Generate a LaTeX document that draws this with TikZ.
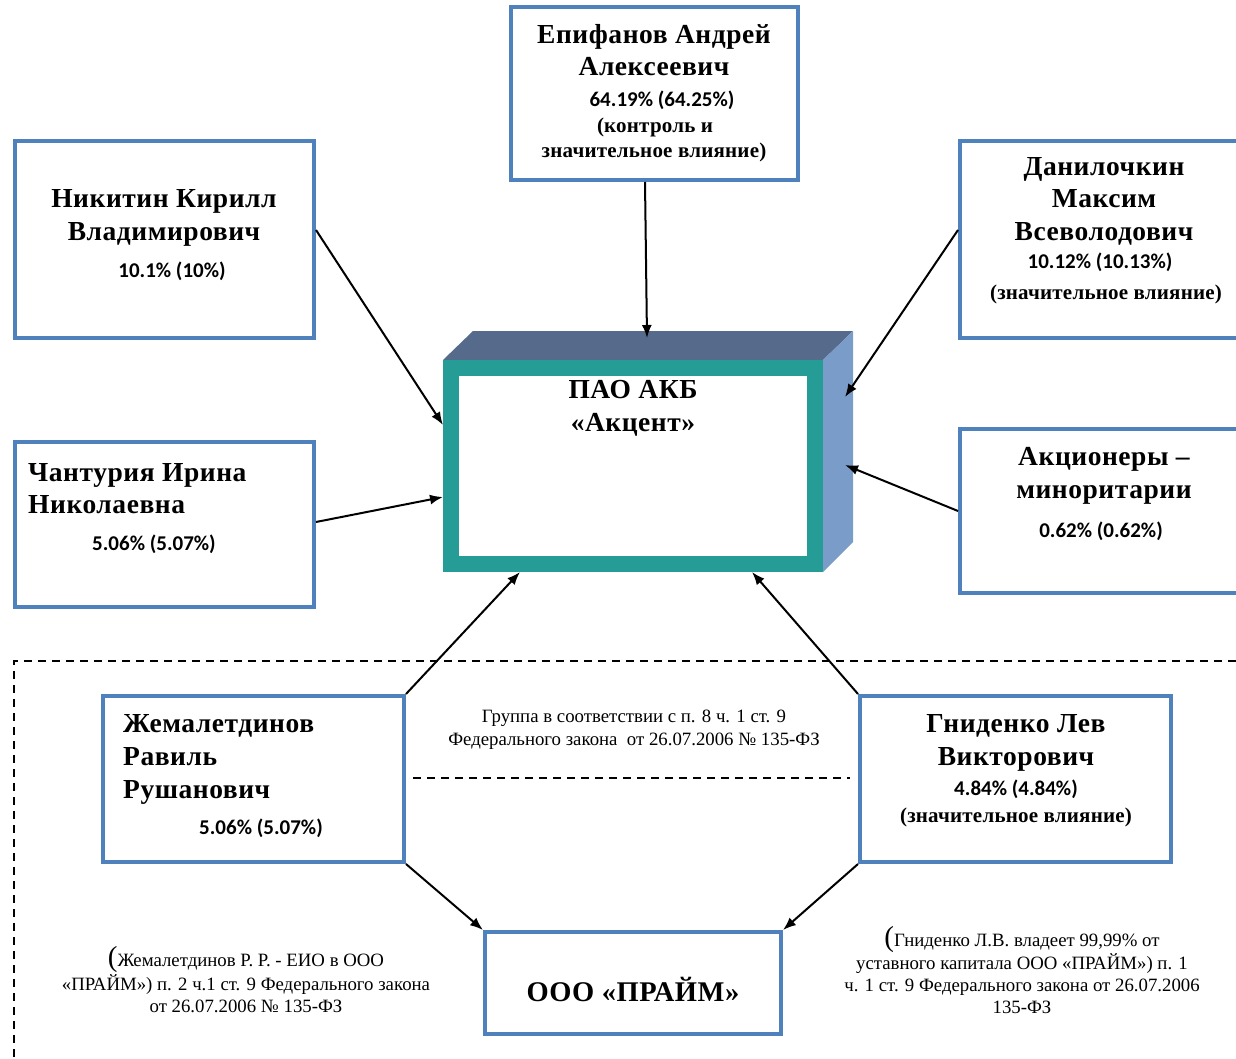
\documentclass[tikz,border=0pt]{standalone}
\usepackage{fontspec}
\setmainfont{Liberation Serif}
\newfontfamily\pctfont{Carlito}
\newfontfamily\spfont[LetterSpace=2]{Liberation Serif}
\newfontfamily\spsmfont[LetterSpace=1]{Liberation Serif}
\usetikzlibrary{calc,arrows.meta}
\definecolor{boxblue}{RGB}{79,129,189}
\definecolor{tealc}{RGB}{38,156,150}
\definecolor{topc}{RGB}{86,106,140}
\definecolor{sidec}{RGB}{122,156,200}
\newcommand{\nmf}{\fontsize{27.5}{27.5}\spfont\bfseries}
\newcommand{\pcf}{\fontsize{21}{21}\pctfont\bfseries}
\newcommand{\smb}{\fontsize{21}{21}\spsmfont\bfseries}
\newcommand{\ntf}{\fontsize{18.8}{18.8}\selectfont}
\newcommand{\bigp}{{\fontsize{29}{29}\selectfont(}}
\tikzset{
  bx/.style={draw=boxblue,line width=4pt,inner sep=0pt,fill=white},
  tx/.style={anchor=base,inner sep=0pt},
  tl/.style={anchor=base west,inner sep=0pt},
  arr/.style={line width=2pt,-{Latex[length=13pt,width=10pt]}},
  dsh/.style={line width=2pt,dash pattern=on 8pt off 6pt}
}
\begin{document}
\begin{tikzpicture}[x=1pt,y=-1pt]
\useasboundingbox (0,0) rectangle (1236,1059);
% dashed group frame
\draw[dsh] (1236,661) -- (14,661) -- (14,1059);
\draw[dsh] (413,778) -- (850,778);
% boxes
\node[bx,minimum width=287,minimum height=173] (epi) at (654.5,93.5) {};
\node[bx,minimum width=299,minimum height=197] (nik) at (164.5,239.5) {};
\node[bx,minimum width=278,minimum height=197] (dan) at (1099,239.5) {};
\node[bx,minimum width=299,minimum height=165] (chan) at (164.5,524.5) {};
\node[bx,minimum width=278,minimum height=164] (akc) at (1099,511) {};
\node[bx,minimum width=301,minimum height=166] (zhem) at (253.5,779) {};
\node[bx,minimum width=311,minimum height=166] (gnid) at (1015.5,779) {};
\node[bx,minimum width=296,minimum height=102] (prime) at (633,983) {};
% 3D box
\fill[topc] (443,360) -- (473,331) -- (853,331) -- (823,360) -- cycle;
\fill[sidec] (823,360) -- (853,331) -- (853,542) -- (823,572) -- cycle;
\node[draw=tealc,line width=16pt,fill=white,inner sep=0pt,minimum width=364,minimum height=196] (pao) at (633,466) {};
\coordinate (topin) at (647,338);
\coordinate (sidein1) at (845,397);
\coordinate (sidein2) at (845,465);
% texts
\node[tx] (pao1) at (633,398) {\nmf ПАО АКБ};
\node[tx] (pao2) at (633,431) {\nmf «Акцент»};
\node[tx] (epi1) at (654,44) {\nmf Епифанов Андрей};
\node[tx] (epi2) at (654,76) {\nmf Алексеевич};
\node[tx] (epi3) at (662,107) {\pcf 64.19\% (64.25\%)};
\node[tx] (epi4) at (655,133) {\smb (контроль и};
\node[tx] (epi5) at (654,158) {\smb значительное влияние)};
\node[tx] (nik1) at (164,208) {\nmf Никитин Кирилл};
\node[tx] (nik2) at (164,241) {\nmf Владимирович};
\node[tx] (nik3) at (172,277) {\pcf 10.1\% (10\%)};
\node[tx] (dan1) at (1104,176) {\nmf Данилочкин};
\node[tx] (dan2) at (1104,208) {\nmf Максим};
\node[tx] (dan3) at (1104,241) {\nmf Всеволодович};
\node[tx] (dan4) at (1100,269) {\pcf 10.12\% (10.13\%)};
\node[tx] (dan5) at (1106,299) {\smb (значительное влияние)};
\node[tl] (chan1) at (28,481) {\nmf Чантурия Ирина};
\node[tl] (chan2) at (28,513) {\nmf Николаевна};
\node[tx] (chan3) at (154,550) {\pcf 5.06\% (5.07\%)};
\node[tx] (akc1) at (1104,465) {\nmf Акционеры –};
\node[tx] (akc2) at (1104,498) {\nmf миноритарии};
\node[tx] (akc3) at (1101,537) {\pcf 0.62\% (0.62\%)};
\node[tl] (zhem1) at (123,732) {\nmf Жемалетдинов};
\node[tl] (zhem2) at (123,765) {\nmf Равиль};
\node[tl] (zhem3) at (123,798) {\nmf Рушанович};
\node[tx] (zhem4) at (261,834) {\pcf 5.06\% (5.07\%)};
\node[tx] (gnid1) at (1016,732) {\nmf Гниденко Лев};
\node[tx] (gnid2) at (1016,765) {\nmf Викторович};
\node[tx] (gnid3) at (1016,795) {\pcf 4.84\% (4.84\%)};
\node[tx] (gnid4) at (1016,822) {\smb (значительное влияние)};
\node[tx] (prime1) at (633,1001) {\fontsize{28.5}{28.5}\spfont\bfseries ООО «ПРАЙМ»};
\node[tx] (grp1) at (634,722) {\ntf Группа в соответствии с п. 8 ч. 1 ст. 9};
\node[tx] (grp2) at (634,745) {\ntf Федерального закона\ \ от 26.07.2006 № 135-ФЗ};
\node[tx] (ln1) at (246,966) {\ntf\bigp Жемалетдинов Р. Р. - ЕИО в ООО};
\node[tx] (ln2) at (246,990) {\ntf «ПРАЙМ») п. 2 ч.1 ст. 9 Федерального закона};
\node[tx] (ln3) at (246,1012) {\ntf от 26.07.2006 № 135-ФЗ};
\node[tx] (rn1) at (1022,946) {\ntf\bigp Гниденко Л.В. владеет 99,99\% от};
\node[tx] (rn2) at (1022,969) {\ntf уставного капитала ООО «ПРАЙМ») п. 1};
\node[tx] (rn3) at (1022,991) {\ntf ч. 1 ст. 9 Федерального закона от 26.07.2006};
\node[tx] (rn4) at (1022,1013) {\ntf 135-ФЗ};
% connectors
\draw[arr] ([xshift=-9.5pt]epi.south) -- (topin);
\draw[arr] ([yshift=9.5pt]nik.east) -- ([yshift=41pt]pao.west);
\draw[arr] ([yshift=2.5pt]chan.east) -- ([yshift=-31pt]pao.west);
\draw[arr] ([yshift=9.5pt]dan.west) -- (sidein1);
\draw[arr] (akc.west) -- (sidein2);
\draw[arr] (zhem.north east) -- ([xshift=-113pt]pao.south);
\draw[arr] (gnid.north west) -- ([xshift=119pt]pao.south);
\draw[arr] (zhem.south east) -- (prime.north west);
\draw[arr] (gnid.south west) -- (prime.north east);
\end{tikzpicture}
\end{document}
